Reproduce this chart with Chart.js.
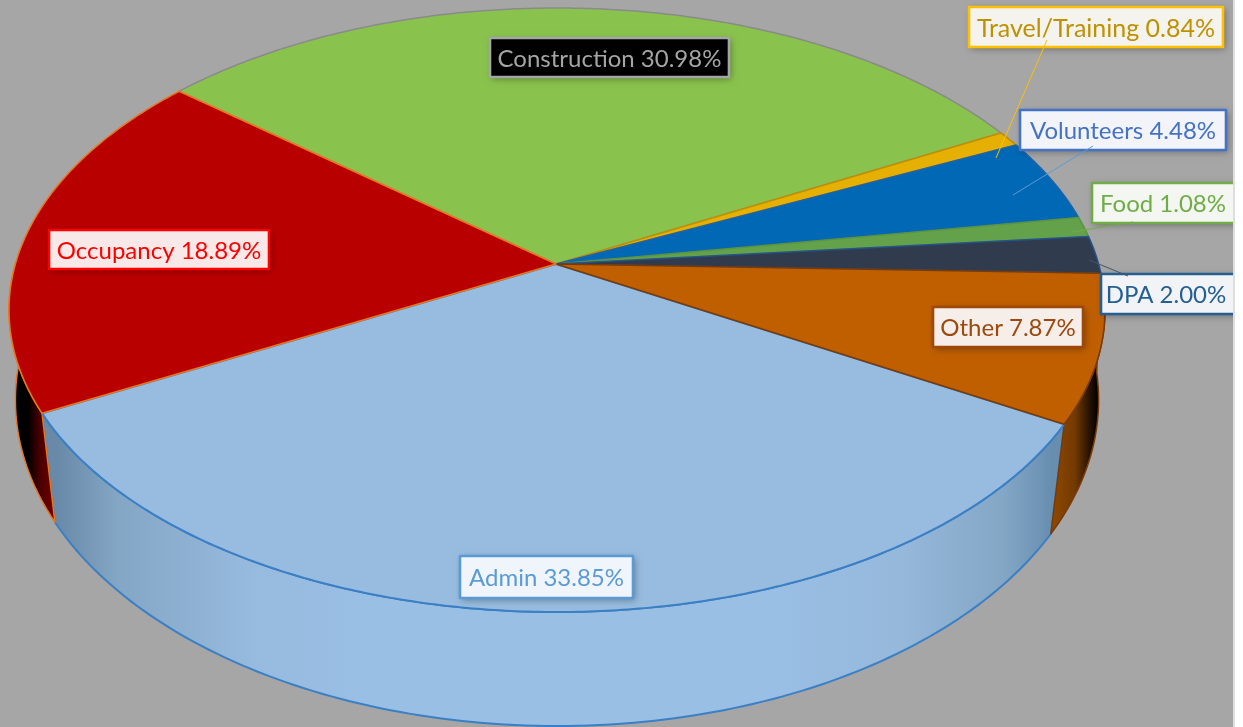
<!DOCTYPE html>
<html>
<head>
<meta charset="utf-8">
<style>
html,body{margin:0;padding:0;background:#fff;}
canvas{display:block;}
</style>
<script src="https://cdn.jsdelivr.net/npm/chart.js@4"></script>
</head>
<body>
<canvas id="c" width="1243" height="727"></canvas>
<script>
const categories = ["Construction","Travel/Training","Volunteers","Food","DPA","Other","Admin","Occupancy"];
const shares = [30.98,0.84,4.48,1.08,2.00,7.87,33.85,18.89];
const sliceColors = ["#89C34D","#E6B003","#0068B5","#64A14B","#303B4D","#C05F00","#97BCE0","#B90000"];
const sliceEdges = ["#8A8A8A","#C08F00","#1F63A8","#5B9440","#25538A","#7A3A08","#3B7FC4","#E8771E"];
const labelInk = ["#A5A5A5","#BF9000","#4472C4","#70AD47","#255E91","#9E480E","#5B9BD5","#FF0000"];
const labelEdge = ["#A5A5A5","#FFC000","#4472C4","#70AD47","#255E91","#9E480E","#5B9BD5","#FF0000"];
const labelFill = ["#000000","#F5F3EE","#F2F4F9","#F3F6F1","#F1F3F7","#F6EEE9","#F0F5FB","#F9E8E8"];

// layout of the label boxes [left, top, right, bottom]
const labelBoxes = [[490,38,729,77],[969,7,1223,47],[1020,110,1226,150],[1092,183,1240,223],[1101,274,1240,314],[933,307,1083,347],[460,556,633,598],[49,230,269,269]];
// leader lines [x1,y1,x2,y2], null where the label has none
const leaders = [null,[1047,40,996,158],[1093,146,1013,195],[1133,222,1072,232],[1128,276,1089,260],null,null,null];
const leaderInk = [null,"#FFC000","#5B9BD5","#70AD47","#44546A",null,null,null];

// projection of the top disc and of the lower rim
const TOP = {x0:557,y0:264,a:541.6,b:295,k:0.1523};
const RIM = {x0:557,y0:362.5,a:538,b:321.7,k:0.115};
function project(ang, depth){
  const P=depth?RIM:TOP;
  const u=Math.cos(ang), v=Math.sin(ang);
  const w=1-P.k*v;
  return [P.x0+P.a*u/w, P.y0+P.b*v/w];
}
const frontFrom=0, frontTo=Math.PI;
const wallShade = {
  5:{x0:1052,x1:1098,stops:[[0,"#8F4900"],[0.5,"#733A00"],[0.8,"#2A1400"],[1,"#000000"]]},
  6:{x0:57,x1:1052,stops:[[0,"#688AA8"],[0.06,"#84A6C5"],[0.2,"#97BBDF"],[0.32,"#9ABFE4"],[0.72,"#9ABFE4"],[0.85,"#95B8DB"],[0.95,"#84A7C6"],[1,"#688EAF"]]},
  7:{x0:15,x1:57,stops:[[0,"#000000"],[0.3,"#000000"],[0.6,"#4A0000"],[1,"#7A0000"]]}
};
const wallOrder=[6,5,7];
const faceOrder=[6,0,1,2,3,4,5,7];

const perspectivePie = {
  id:'perspectivePie',
  beforeDatasetDraw(chart,args){
    const ctx=chart.ctx, arcs=chart.getDatasetMeta(args.index).data;
    const step=Math.PI/180;
    ctx.save();
    ctx.fillStyle="#A6A6A6";
    ctx.fillRect(0,0,1233,727);
    ctx.fillStyle="#DEDEDE";
    ctx.fillRect(1233,0,2,727);
    ctx.beginPath();ctx.rect(0,0,1233,727);ctx.clip();

    // side walls
    wallOrder.forEach(i=>{
      let s=arcs[i].startAngle, e=arcs[i].endAngle;
      s=Math.max(s,frontFrom); e=Math.min(e,frontTo);
      if(e<=s) return;
      const shade=wallShade[i];
      const g=ctx.createLinearGradient(shade.x0,0,shade.x1,0);
      shade.stops.forEach(t=>g.addColorStop(t[0],t[1]));
      ctx.beginPath();
      for(let a=s;a<e;a+=step){const p=project(a,false);ctx.lineTo(p[0],p[1]);}
      let p=project(e,false);ctx.lineTo(p[0],p[1]);
      p=project(e,true);ctx.lineTo(p[0],p[1]);
      for(let a=e;a>s;a-=step){const q=project(a,true);ctx.lineTo(q[0],q[1]);}
      p=project(s,true);ctx.lineTo(p[0],p[1]);
      ctx.closePath();
      ctx.fillStyle=g;ctx.fill();
      ctx.strokeStyle=sliceEdges[i];ctx.lineWidth=(i===6?2:1.5);ctx.lineJoin="round";ctx.stroke();
    });

    // top faces
    faceOrder.forEach(i=>{
      const arc=arcs[i];
      ctx.beginPath();
      ctx.moveTo(TOP.x0-1,TOP.y0);
      for(let a=arc.startAngle;a<arc.endAngle;a+=step/2){const p=project(a,false);ctx.lineTo(p[0],p[1]);}
      const p=project(arc.endAngle,false);ctx.lineTo(p[0],p[1]);
      ctx.closePath();
      ctx.fillStyle=sliceColors[i];ctx.fill();
      ctx.strokeStyle=sliceEdges[i];ctx.lineWidth=(i===6?2:1.5);ctx.lineJoin="round";ctx.stroke();
    });

    // data labels
    ctx.textAlign='center';ctx.textBaseline='middle';
    categories.forEach((name,i)=>{
      const b=labelBoxes[i], w=b[2]-b[0], h=b[3]-b[1];
      ctx.save();
      ctx.shadowColor="rgba(0,0,0,0.35)";ctx.shadowBlur=7;ctx.shadowOffsetX=2;ctx.shadowOffsetY=2;
      ctx.fillStyle=labelFill[i];ctx.fillRect(b[0],b[1],w,h);
      ctx.restore();
      ctx.strokeStyle=labelEdge[i];ctx.lineWidth=2.6;ctx.strokeRect(b[0],b[1],w,h);
      ctx.fillStyle=labelInk[i];
      ctx.font=(i===1?'25px':'24px')+' Lato';
      const cx = (i===3||i===4) ? b[0]+(i===3?71:65) : (b[0]+b[2])/2;
      ctx.fillText(name+" "+shares[i].toFixed(2)+"%",cx,(b[1]+b[3])/2+1.5);
    });

    // leader lines
    leaders.forEach((l,i)=>{
      if(!l) return;
      ctx.beginPath();ctx.moveTo(l[0],l[1]);ctx.lineTo(l[2],l[3]);
      ctx.strokeStyle=leaderInk[i];ctx.lineWidth=1;ctx.stroke();
    });
    ctx.restore();
    return false;
  }
};

new Chart(document.getElementById('c'),{
  type:'pie',
  data:{labels:categories,datasets:[{data:shares,backgroundColor:sliceColors,borderColor:sliceEdges}]},
  options:{
    responsive:false,
    animation:false,
    rotation:-50,
    layout:{padding:0},
    plugins:{legend:{display:false},tooltip:{enabled:false},title:{display:false}}
  },
  plugins:[perspectivePie]
});
</script>
</body>
</html>
